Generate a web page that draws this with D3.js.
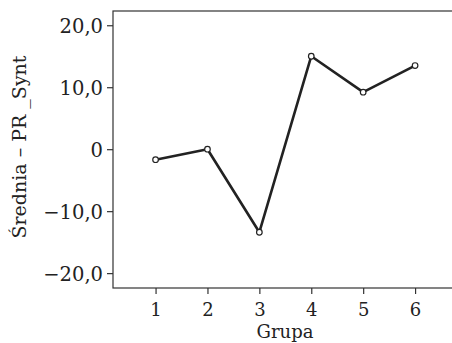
<!DOCTYPE html>
<html>
<head>
<meta charset="utf-8">
<script src="https://cdn.jsdelivr.net/npm/d3@7"></script>
<style>
body { margin: 0; background: #fff; }
svg { display: block; }
text { font-family: "DejaVu Serif", serif; fill: #222; }
</style>
</head>
<body>
<svg width="452" height="343"></svg>
<script>
const GROUPS = [1, 2, 3, 4, 5, 6];
const MEANS = [-1.7, 0.0, -13.4, 15.0, 9.2, 13.5];
const Y_TICKS = [-20, -10, 0, 10, 20];

const PLOT = {left: 113, top: 11, right: 454, bottom: 288};

const x = d3.scaleLinear().domain([0.18, 6.75]).range([PLOT.left, PLOT.right]);
const y = d3.scaleLinear().domain([-22.4, 22.3]).range([PLOT.bottom, PLOT.top]);

const svg = d3.select('svg');

// frame
svg.append('rect')
    .attr('x', PLOT.left).attr('y', PLOT.top)
    .attr('width', PLOT.right - PLOT.left).attr('height', PLOT.bottom - PLOT.top)
    .attr('fill', 'none').attr('stroke', '#333').attr('stroke-width', 1.2);

const fmt = d => d === 0 ? '0' : d3.format('.1f')(d).replace('.', ',').replace('-', '\u2212');

const yAxis = svg.append('g')
    .attr('transform', `translate(${PLOT.left},0)`)
    .call(d3.axisLeft(y).tickValues(Y_TICKS).tickFormat(fmt).tickSize(6).tickPadding(4));
yAxis.select('.domain').remove();
yAxis.selectAll('text').style('font-size', '19.5px').attr('dy', '0.36em');

const xAxis = svg.append('g')
    .attr('transform', `translate(0,${PLOT.bottom})`)
    .call(d3.axisBottom(x).tickValues(GROUPS).tickFormat(d3.format('d')).tickSize(6).tickPadding(9));
xAxis.select('.domain').remove();
xAxis.selectAll('text').style('font-size', '18px');
svg.selectAll('.tick line').attr('stroke', '#333').attr('stroke-width', 1.2);

// axis titles
svg.append('text')
    .attr('x', 285).attr('y', 338)
    .attr('text-anchor', 'middle')
    .style('font-size', '18px')
    .text('Grupa');

svg.append('text')
    .attr('transform', 'translate(26,147) rotate(-90)')
    .attr('text-anchor', 'middle')
    .style('font-size', '19px')
    .text('Średnia – PR _Synt');

// line + markers
const line = d3.line().x((d, i) => x(GROUPS[i])).y(d => y(d));
svg.append('path')
    .datum(MEANS)
    .attr('d', line)
    .attr('fill', 'none')
    .attr('stroke', '#222')
    .attr('stroke-width', 2.6)
    .attr('stroke-linejoin', 'round');

svg.selectAll('.pt')
    .data(MEANS)
    .enter()
    .append('circle')
    .classed('pt', true)
    .attr('cx', (d, i) => x(GROUPS[i]))
    .attr('cy', d => y(d))
    .attr('r', 2.8)
    .attr('fill', '#fff')
    .attr('stroke', '#222')
    .attr('stroke-width', 1.2);
</script>
</body>
</html>
